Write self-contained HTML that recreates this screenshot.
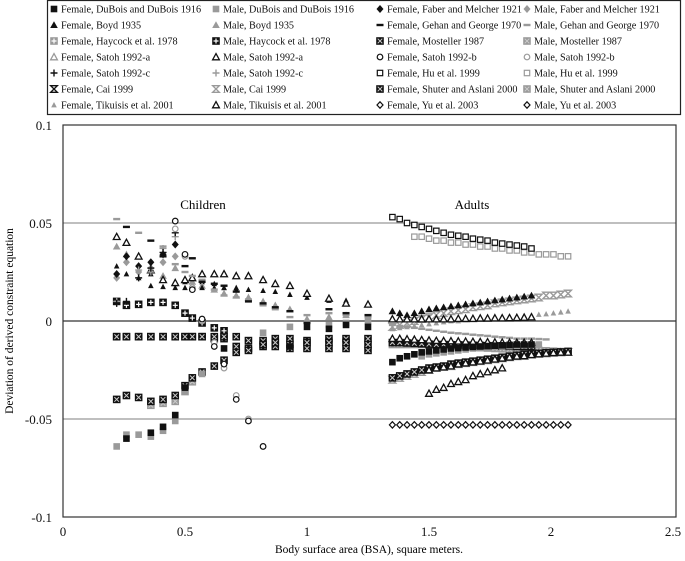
<!DOCTYPE html>
<html><head><meta charset="utf-8"><style>
html,body{margin:0;padding:0;background:#fff;}
svg{display:block;font-family:"Liberation Serif",serif;}
</style></head><body>
<svg id="chart" width="685" height="561" viewBox="0 0 685 561" xmlns="http://www.w3.org/2000/svg">
<rect x="47.5" y="0.5" width="633" height="114" fill="#fff" stroke="#222" stroke-width="1.2"/>
<g id="legend"></g>
<g id="plot"></g>
<text transform="translate(13,321) rotate(-90)" text-anchor="middle" font-size="11.5">Deviation of derived constraint equation</text>
<text x="369" y="553" text-anchor="middle" font-size="11.5">Body surface area (BSA), square meters.</text>
<text x="203" y="209" text-anchor="middle" font-size="13">Children</text>
<text x="472" y="209" text-anchor="middle" font-size="13">Adults</text>
</svg>
<script>
const xTicks=[0,0.5,1,1.5,2,2.5];
const yTicks=[0.1,0.05,0,-0.05,-0.1];
const yTickLabels=["0.1","0.05","0","-0.05","-0.1"];
const xTickLabels=["0","0.5","1","1.5","2","2.5"];
const childX=[0.22,0.26,0.31,0.36,0.41,0.46,0.5,0.53,0.57,0.62,0.66,0.71,0.76,0.82,0.87,0.93,1.0,1.09,1.16,1.25];
const adultX=[1.35,1.38,1.41,1.44,1.47,1.5,1.53,1.56,1.59,1.62,1.65,1.68,1.71,1.74,1.77,1.8,1.83,1.86,1.89,1.92,1.95,1.98,2.01,2.04,2.07];
const N=null;
// children series
const chTikM=[0.043,0.04,0.033,0.026,0.021,0.0195,0.021,0.022,0.024,0.024,0.024,0.023,0.023,0.021,0.019,0.018,0.014,0.0115,0.009,0.0085];
const chTikF=[0.028,0.024,0.022,0.018,0.0175,0.017,0.017,0.017,0.017,0.017,0.017,0.017,0.016,0.0155,0.015,0.0135,0.012,0.0105,0.0105,N];
const chBoydM=[0.038,0.034,N,N,0.023,0.027,0.021,0.02,0.018,0.016,0.014,0.013,0.012,0.01,0.008,0.006,0.001,0.002,0.003,0.001];
const chBoydF=[N,N,N,0.024,0.021,0.019,0.02,0.022,0.02,0.019,0.017,0.016,N,N,N,N,N,N,N,N];
const chGehanF=[N,0.048,N,0.041,0.033,N,0.028,0.032,0.02,0.019,0.018,0.015,0.01,0.009,0.007,0.005,-0.001,0.006,0.004,0.003];
const chGehanM=[0.052,N,0.045,N,0.038,0.029,0.025,0.023,0.021,0.016,0.013,0.012,0.011,0.008,0.006,0.002,0.003,0.004,0.003,0.002];
const chSatohCF=[0.009,0.01,0.022,0.027,0.035,0.045,N,N,N,N,N,N,N,N,N,N,N,N,N,N];
const chSatohCM=[0.01,N,0.026,0.025,0.037,0.043,N,N,N,N,N,N,N,N,N,N,N,N,N,N];
const chSatohB=[N,N,N,N,N,0.051,0.034,0.016,0.001,-0.013,-0.022,-0.04,-0.051,-0.064,N,N,N,N,N,N];
const chSatohBM=[N,N,N,N,N,0.047,0.033,0.017,0.0,-0.011,-0.024,-0.038,-0.05,N,N,N,N,N,N,N];
const chFaberF=[0.024,0.033,0.028,0.03,0.034,0.039,N,N,N,N,N,N,N,N,N,N,N,N,N,N];
const chFaberM=[0.022,0.03,0.025,0.027,0.03,0.033,N,N,N,N,N,N,N,N,N,N,N,N,N,N];
const chHaycock=[0.01,0.008,0.0085,0.0095,0.0095,0.008,0.004,0.0015,-0.001,-0.0035,-0.005,N,N,N,N,N,N,N,N,N];
const chMostF=[-0.008,-0.008,-0.008,-0.008,-0.008,-0.008,-0.008,-0.008,-0.008,-0.008,-0.008,-0.008,-0.01,-0.01,-0.009,-0.009,-0.01,-0.009,-0.009,-0.009];
const chMostM=[-0.008,-0.008,-0.008,-0.008,-0.008,-0.008,-0.008,-0.008,-0.008,-0.009,-0.009,-0.013,-0.014,-0.013,-0.013,-0.014,-0.014,-0.014,-0.014,-0.015];
const chShuterF=[-0.04,-0.038,-0.039,-0.041,-0.04,-0.038,-0.033,-0.029,-0.026,-0.023,-0.02,-0.016,-0.015,-0.012,-0.011,-0.012,-0.011,-0.011,-0.011,-0.012];
const chShuterM=[N,N,N,-0.043,-0.042,-0.041,-0.036,-0.031,N,N,N,N,N,N,N,N,N,N,N,N];
const chDuboisF=[N,-0.06,N,-0.057,-0.054,-0.048,-0.034,N,N,N,-0.014,N,N,N,N,-0.013,-0.003,-0.004,-0.002,-0.003];
const chDuboisM=[-0.064,-0.058,-0.058,-0.059,-0.056,-0.051,-0.036,N,-0.027,N,N,N,N,-0.006,N,-0.003,N,-0.002,-0.001,0.0];
// adult series
const adHuF=[0.053,0.052,0.05,0.049,0.048,0.047,0.046,0.045,0.044,0.0435,0.043,0.042,0.0415,0.041,0.04,0.0395,0.039,0.0385,0.038,0.037,N,N,N,N,N];
const adHuM=[N,N,N,0.043,0.043,0.042,0.041,0.041,0.04,0.04,0.039,0.039,0.038,0.038,0.037,0.037,0.036,0.036,0.035,0.035,0.034,0.034,0.034,0.033,0.033];
const adYu=[-0.053,-0.053,-0.053,-0.053,-0.053,-0.053,-0.053,-0.053,-0.053,-0.053,-0.053,-0.053,-0.053,-0.053,-0.053,-0.053,-0.053,-0.053,-0.053,-0.053,-0.053,-0.053,-0.053,-0.053,-0.053];
const adFaberF=[0.005,0.004,0.003,0.004,0.005,0.006,0.0065,0.007,0.0075,0.008,0.0085,0.009,0.0095,0.01,0.0105,0.011,0.0115,0.012,0.0125,0.013,N,N,N,N,N];
const adCaiMup=[-0.003,-0.002,-0.001,0.0,0.001,0.002,0.003,0.004,0.005,0.0055,0.006,0.007,0.0075,0.008,0.009,0.0095,0.01,0.0105,0.011,0.0115,0.012,0.013,0.013,0.0135,0.014];
const adTikF=[0.001,0.001,0.001,0.001,0.001,0.001,0.001,0.001,0.001,0.0012,0.0012,0.0012,0.0014,0.0014,0.0015,0.0015,0.0016,0.0017,0.0018,0.002,N,N,N,N,N];
const adTikM=[-0.004,-0.0035,-0.003,-0.0025,-0.002,-0.0015,-0.001,-0.0005,0.0,0.0,0.0005,0.001,0.0012,0.0015,0.0018,0.002,0.0022,0.0025,0.0028,0.003,0.0033,0.0036,0.004,0.0045,0.005];
const adCross=[-0.002,-0.0025,-0.003,-0.0035,-0.004,-0.0045,-0.005,-0.0055,-0.006,-0.0063,-0.0066,-0.007,-0.0073,-0.0076,-0.008,-0.0083,-0.0086,-0.009,-0.009,-0.009,-0.0092,-0.0094,N,N,N];
const adMostF=[-0.009,-0.009,-0.0092,-0.0094,-0.0096,-0.0098,-0.01,-0.0101,-0.0102,-0.0103,-0.0104,-0.0105,-0.0106,-0.0107,-0.0108,-0.0109,-0.011,-0.011,-0.011,-0.011,N,N,N,N,N];
const adShuterF=[-0.011,-0.011,-0.0112,-0.0114,-0.0116,-0.0118,-0.012,-0.012,-0.0121,-0.0122,-0.0123,-0.0124,-0.0125,-0.0126,-0.0127,-0.0128,-0.0129,-0.013,-0.013,-0.013,N,N,N,N,N];
const adMostM=[-0.012,-0.012,-0.012,-0.012,-0.012,-0.0122,-0.0124,-0.0126,-0.0128,-0.013,-0.0132,-0.0134,-0.0136,-0.0138,-0.014,-0.0142,-0.0144,-0.0146,-0.0148,-0.015,-0.015,-0.0152,-0.0154,-0.0156,-0.0158];
const adDuboisF=[-0.021,-0.019,-0.018,-0.017,-0.016,-0.0155,-0.015,-0.0145,-0.014,-0.0138,-0.0135,-0.0132,-0.013,-0.0128,-0.0126,-0.0124,-0.0122,-0.012,-0.012,-0.012,N,N,N,N,N];
const adDuboisM=[N,N,N,N,-0.018,-0.017,-0.0165,-0.016,-0.0155,-0.015,-0.0145,-0.014,-0.0138,-0.0135,-0.0132,-0.013,-0.0128,-0.0126,-0.0124,-0.0122,-0.012,N,N,N,N];
const adCaiF=[-0.029,-0.028,-0.027,-0.026,-0.025,-0.024,-0.0235,-0.023,-0.022,-0.0215,-0.021,-0.0205,-0.02,-0.0195,-0.019,-0.0185,-0.018,-0.0175,-0.017,-0.0168,-0.0165,-0.0162,-0.016,-0.0158,-0.0155];
const adCaiM=[-0.03,-0.029,-0.028,-0.027,-0.026,-0.025,-0.024,-0.0235,-0.023,-0.022,-0.0215,-0.021,-0.0205,-0.02,-0.0195,-0.019,-0.0185,-0.018,-0.0178,-0.0172,-0.0168,-0.0165,-0.0162,-0.016,-0.0158];
const adSatohAM=[N,N,N,N,N,-0.025,-0.024,-0.0235,-0.023,-0.022,-0.0215,-0.021,-0.0205,-0.02,-0.0195,-0.019,-0.0185,-0.018,-0.0178,-0.0172,-0.0168,-0.0165,-0.0162,-0.016,-0.016];
const adSatohAF=[N,N,N,N,N,-0.037,-0.035,-0.034,-0.032,-0.031,-0.03,-0.028,-0.027,-0.026,-0.025,-0.024,N,N,N,N,N,N,N,N,N];

const BLK="#111",GRY="#9a9a9a";
const legendItems=[
["sq",BLK,"Female, DuBois and DuBois 1916"],["sq",GRY,"Male, DuBois and DuBois 1916"],["dia",BLK,"Female, Faber and Melcher 1921"],["dia",GRY,"Male, Faber and Melcher 1921"],
["tri",BLK,"Female, Boyd 1935"],["tri",GRY,"Male, Boyd 1935"],["dash",BLK,"Female, Gehan and George 1970"],["dash",GRY,"Male, Gehan and George 1970"],
["sqplus",GRY,"Female, Haycock et al. 1978"],["sqplus",BLK,"Male, Haycock et al. 1978"],["sqx",BLK,"Female, Mosteller 1987"],["sqx",GRY,"Male, Mosteller 1987"],
["otri",GRY,"Female, Satoh 1992-a"],["otri",BLK,"Male, Satoh 1992-a"],["circ",BLK,"Female, Satoh 1992-b"],["circ",GRY,"Male, Satoh 1992-b"],
["plus",BLK,"Female, Satoh 1992-c"],["plus",GRY,"Male, Satoh 1992-c"],["osq",BLK,"Female, Hu et al. 1999"],["osq",GRY,"Male, Hu et al. 1999"],
["hour",BLK,"Female, Cai 1999"],["hour",GRY,"Male, Cai 1999"],["sqx",BLK,"Female, Shuter and Aslani 2000"],["sqx",GRY,"Male, Shuter and Aslani 2000"],
["stri",GRY,"Female, Tikuisis et al. 2001"],["otri",BLK,"Male, Tikuisis et al. 2001"],["odia",BLK,"Female, Yu et al. 2003"],["odia",BLK,"Male, Yu et al. 2003"]];

const NS="http://www.w3.org/2000/svg";
const X0=63,XS=244,Y0=321,YS=1960;
function sx(v){return X0+v*XS;}
function sy(v){return Y0-v*YS;}
function el(tag,attrs,parent){const e=document.createElementNS(NS,tag);for(const k in attrs)e.setAttribute(k,attrs[k]);parent.appendChild(e);return e;}
function marker(parent,type,c,x,y,name){
  const g=el("g",{},parent);
  
  
  const s=3.3;
  if(type==="sq")el("rect",{x:x-s,y:y-s,width:2*s,height:2*s,fill:c},g);
  else if(type==="osq")el("rect",{x:x-s+0.6,y:y-s+0.6,width:2*s-1.2,height:2*s-1.2,fill:"#fff",stroke:c,"stroke-width":1.2},g);
  else if(type==="sqx"){el("rect",{x:x-s-0.5,y:y-s-0.5,width:2*s+1,height:2*s+1,fill:c},g);el("path",{d:`M${x-2.3} ${y-2.3}L${x+2.3} ${y+2.3}M${x+2.3} ${y-2.3}L${x-2.3} ${y+2.3}`,stroke:"#ccc","stroke-width":1},g);}
  else if(type==="sqplus"){el("rect",{x:x-s-0.5,y:y-s-0.5,width:2*s+1,height:2*s+1,fill:c},g);el("path",{d:`M${x-2.5} ${y}L${x+2.5} ${y}M${x} ${y-2.5}L${x} ${y+2.5}`,stroke:"#fff","stroke-width":1.2},g);}
  else if(type==="tri")el("path",{d:`M${x} ${y-3.8}L${x+3.8} ${y+3}L${x-3.8} ${y+3}Z`,fill:c},g);
  else if(type==="stri")el("path",{d:`M${x} ${y-3}L${x+2.8} ${y+2.4}L${x-2.8} ${y+2.4}Z`,fill:c},g);
  else if(type==="otri")el("path",{d:`M${x} ${y-3.4}L${x+3.4} ${y+2.8}L${x-3.4} ${y+2.8}Z`,fill:"#fff",stroke:c,"stroke-width":1.3},g);
  else if(type==="dia")el("path",{d:`M${x} ${y-4}L${x+3.5} ${y}L${x} ${y+4}L${x-3.5} ${y}Z`,fill:c},g);
  else if(type==="odia")el("path",{d:`M${x} ${y-3.2}L${x+3} ${y}L${x} ${y+3.2}L${x-3} ${y}Z`,fill:"#fff",stroke:c,"stroke-width":1.2},g);
  else if(type==="circ")el("circle",{cx:x,cy:y,r:2.8,fill:"#fff",stroke:c,"stroke-width":1.2},g);
  else if(type==="dash")el("rect",{x:x-3.5,y:y-1.2,width:7,height:2.4,fill:c},g);
  else if(type==="plus")el("path",{d:`M${x-3.5} ${y}L${x+3.5} ${y}M${x} ${y-3.5}L${x} ${y+3.5}`,stroke:c,"stroke-width":1.4},g);
  else if(type==="hour")el("path",{d:`M${x-3.3} ${y-3.3}L${x+3.3} ${y-3.3}L${x-3.3} ${y+3.3}L${x+3.3} ${y+3.3}Z`,fill:"none",stroke:c,"stroke-width":1.4},g);
  return g;
}
// legend
const leg=document.getElementById("legend");
const colX=[50,212,376,523];
legendItems.forEach((it,i)=>{
  const r=Math.floor(i/4),c=i%4,y=9+r*16;
  const g=el("g",{},leg);
  
  
  marker(g,it[0],it[1],colX[c]+4,y,'legend-marker');
  const t=el("text",{x:colX[c]+11,y:y+3.5,"font-size":"10.2",fill:"#111"},g);
  
  
  t.textContent=it[2];
});
// plot
const P=document.getElementById("plot");
[0.05,-0.05].forEach(v=>{const l=el("line",{x1:X0,x2:676,y1:sy(v),y2:sy(v),stroke:"#999","stroke-width":1.2},P);});
const zl=el("line",{x1:X0,x2:676,y1:sy(0),y2:sy(0),stroke:"#555","stroke-width":1.6},P);


const fr=el("rect",{x:X0,y:sy(0.1),width:676-X0,height:sy(-0.1)-sy(0.1),fill:"none",stroke:"#333","stroke-width":1.2},P);


yTicks.forEach((v,i)=>{const t=el("text",{x:52,y:sy(v)+5,"text-anchor":"end","font-size":"13",fill:"#111"},P);t.textContent=yTickLabels[i];});
xTicks.forEach((v,i)=>{const t=el("text",{x:sx(v),y:536,"text-anchor":"middle","font-size":"13",fill:"#111"},P);t.textContent=xTickLabels[i];});
function series(xs,ys,type,c,name){
  const g=el("g",{},P);
  
  
  ys.forEach((v,i)=>{if(v!==null)marker(g,type,c,sx(xs[i]),sy(v),'point');});
}
// adults
series(adultX,adHuM,"osq",GRY,"adult-hu-male");
series(adultX,adHuF,"osq",BLK,"adult-hu-female");
series(adultX,adYu,"odia",BLK,"adult-yu");
series(adultX,adCaiMup,"hour",GRY,"adult-cai-male-upper");
series(adultX,adFaberF,"tri",BLK,"adult-faber-female");
series(adultX,adTikM,"stri",GRY,"adult-tikuisis-male");
series(adultX,adTikF,"otri",BLK,"adult-tikuisis-female");
series(adultX,adCross,"dash",GRY,"adult-gehan-male");
series(adultX,adMostM,"sqx",GRY,"adult-mosteller-male");
series(adultX,adShuterF,"sqx",BLK,"adult-shuter-female");
series(adultX,adMostF,"otri",BLK,"adult-mosteller-female");
series(adultX,adDuboisM,"sq",GRY,"adult-dubois-male");
series(adultX,adDuboisF,"sq",BLK,"adult-dubois-female");
series(adultX,adCaiM,"hour",GRY,"adult-cai-male");
series(adultX,adCaiF,"sqx",BLK,"adult-cai-female");
series(adultX,adSatohAM,"otri",BLK,"adult-satoh-a-male");
series(adultX,adSatohAF,"otri",BLK,"adult-satoh-a-female");
// children
series(childX,chMostM,"sqx",BLK,"child-mosteller-male");
series(childX,chMostF,"sqx",BLK,"child-mosteller-female");
series(childX,chShuterM,"sqx",GRY,"child-shuter-male");
series(childX,chShuterF,"sqx",BLK,"child-shuter-female");
series(childX,chHaycock,"sqplus",BLK,"child-haycock");
series(childX,chDuboisM,"sq",GRY,"child-dubois-male");
series(childX,chDuboisF,"sq",BLK,"child-dubois-female");
series(childX,chBoydF,"stri",BLK,"child-boyd-female");
series(childX,chBoydM,"tri",GRY,"child-boyd-male");
series(childX,chTikF,"stri",BLK,"child-tikuisis-female");
series(childX,chTikM,"otri",BLK,"child-tikuisis-male");
series(childX,chGehanM,"dash",GRY,"child-gehan-male");
series(childX,chGehanF,"dash",BLK,"child-gehan-female");
series(childX,chFaberM,"dia",GRY,"child-faber-male");
series(childX,chFaberF,"dia",BLK,"child-faber-female");
series(childX,chSatohCM,"plus",GRY,"child-satoh-c-male");
series(childX,chSatohCF,"plus",BLK,"child-satoh-c-female");
series(childX,chSatohBM,"circ",GRY,"child-satoh-b-male");
series(childX,chSatohB,"circ",BLK,"child-satoh-b-female");
</script>
</body></html>
